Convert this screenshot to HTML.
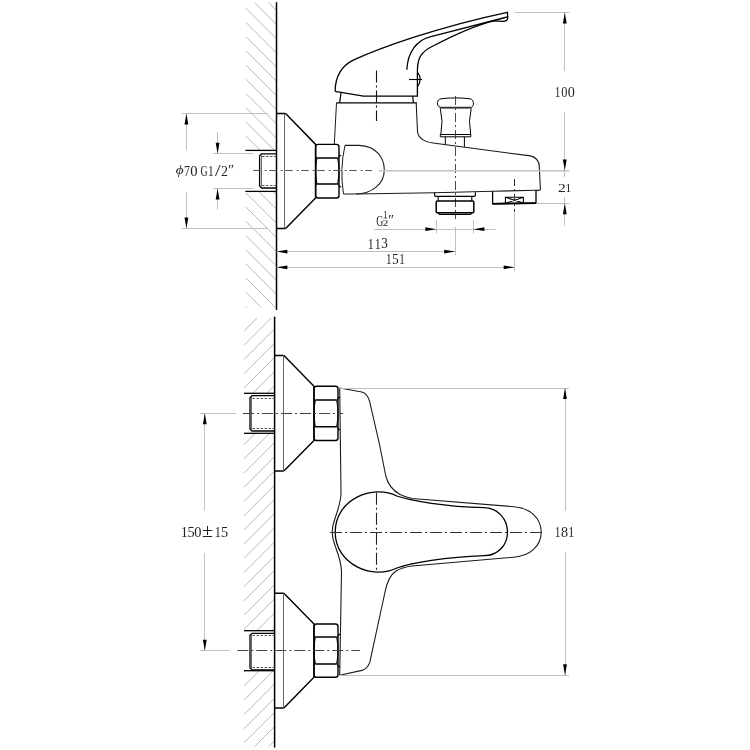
<!DOCTYPE html>
<html><head><meta charset="utf-8"><style>
html,body{margin:0;padding:0;background:#fff;}
svg{display:block;}
text{font-family:"Liberation Serif",serif;fill:#222;}
svg{will-change:transform;}
</style></head><body>
<svg width="750" height="750" viewBox="0 0 750 750">
<rect width="750" height="750" fill="#fff"/>
<line x1="268.8" y1="2.7" x2="276.4" y2="10.3" stroke="#b0b0b0" stroke-width="0.9" />
<line x1="254.6" y1="2.7" x2="276.4" y2="24.5" stroke="#b0b0b0" stroke-width="0.9" />
<line x1="246" y1="8.3" x2="276.4" y2="38.7" stroke="#b0b0b0" stroke-width="0.9" />
<line x1="246" y1="22.5" x2="276.4" y2="52.9" stroke="#b0b0b0" stroke-width="0.9" />
<line x1="246" y1="36.7" x2="276.4" y2="67.1" stroke="#b0b0b0" stroke-width="0.9" />
<line x1="246" y1="50.9" x2="276.4" y2="81.3" stroke="#b0b0b0" stroke-width="0.9" />
<line x1="246" y1="65.1" x2="276.4" y2="95.5" stroke="#b0b0b0" stroke-width="0.9" />
<line x1="246" y1="79.3" x2="276.4" y2="109.7" stroke="#b0b0b0" stroke-width="0.9" />
<line x1="246" y1="93.5" x2="276.4" y2="123.9" stroke="#b0b0b0" stroke-width="0.9" />
<line x1="246" y1="107.7" x2="276.4" y2="138.1" stroke="#b0b0b0" stroke-width="0.9" />
<line x1="246" y1="121.9" x2="274.5" y2="150.4" stroke="#b0b0b0" stroke-width="0.9" />
<line x1="246" y1="136.1" x2="260.3" y2="150.4" stroke="#b0b0b0" stroke-width="0.9" />
<line x1="246" y1="150.3" x2="246.1" y2="150.4" stroke="#b0b0b0" stroke-width="0.9" />
<line x1="272.9" y1="191.4" x2="276.4" y2="194.9" stroke="#b0b0b0" stroke-width="0.9" />
<line x1="258.7" y1="191.4" x2="276.4" y2="209.1" stroke="#b0b0b0" stroke-width="0.9" />
<line x1="246" y1="192.9" x2="276.4" y2="223.3" stroke="#b0b0b0" stroke-width="0.9" />
<line x1="246" y1="207.1" x2="276.4" y2="237.5" stroke="#b0b0b0" stroke-width="0.9" />
<line x1="246" y1="221.3" x2="276.4" y2="251.7" stroke="#b0b0b0" stroke-width="0.9" />
<line x1="246" y1="235.5" x2="276.4" y2="265.9" stroke="#b0b0b0" stroke-width="0.9" />
<line x1="246" y1="249.7" x2="276.4" y2="280.1" stroke="#b0b0b0" stroke-width="0.9" />
<line x1="246" y1="263.9" x2="276.4" y2="294.3" stroke="#b0b0b0" stroke-width="0.9" />
<line x1="246" y1="278.1" x2="275.4" y2="307.5" stroke="#b0b0b0" stroke-width="0.9" />
<line x1="246" y1="292.3" x2="261.2" y2="307.5" stroke="#b0b0b0" stroke-width="0.9" />
<line x1="246" y1="306.5" x2="247" y2="307.5" stroke="#b0b0b0" stroke-width="0.9" />
<line x1="244" y1="331.1" x2="257.1" y2="318" stroke="#b0b0b0" stroke-width="0.9" />
<line x1="244" y1="345.3" x2="271.3" y2="318" stroke="#b0b0b0" stroke-width="0.9" />
<line x1="244" y1="359.5" x2="274.7" y2="328.8" stroke="#b0b0b0" stroke-width="0.9" />
<line x1="244" y1="373.7" x2="274.7" y2="343" stroke="#b0b0b0" stroke-width="0.9" />
<line x1="244" y1="387.9" x2="274.7" y2="357.2" stroke="#b0b0b0" stroke-width="0.9" />
<line x1="252.8" y1="393.3" x2="274.7" y2="371.4" stroke="#b0b0b0" stroke-width="0.9" />
<line x1="267" y1="393.3" x2="274.7" y2="385.6" stroke="#b0b0b0" stroke-width="0.9" />
<line x1="244" y1="444.7" x2="255.4" y2="433.3" stroke="#b0b0b0" stroke-width="0.9" />
<line x1="244" y1="458.9" x2="269.6" y2="433.3" stroke="#b0b0b0" stroke-width="0.9" />
<line x1="244" y1="473.1" x2="274.7" y2="442.4" stroke="#b0b0b0" stroke-width="0.9" />
<line x1="244" y1="487.3" x2="274.7" y2="456.6" stroke="#b0b0b0" stroke-width="0.9" />
<line x1="244" y1="501.5" x2="274.7" y2="470.8" stroke="#b0b0b0" stroke-width="0.9" />
<line x1="244" y1="515.7" x2="274.7" y2="485" stroke="#b0b0b0" stroke-width="0.9" />
<line x1="244" y1="529.9" x2="274.7" y2="499.2" stroke="#b0b0b0" stroke-width="0.9" />
<line x1="244" y1="544.1" x2="274.7" y2="513.4" stroke="#b0b0b0" stroke-width="0.9" />
<line x1="244" y1="558.3" x2="274.7" y2="527.6" stroke="#b0b0b0" stroke-width="0.9" />
<line x1="244" y1="572.5" x2="274.7" y2="541.8" stroke="#b0b0b0" stroke-width="0.9" />
<line x1="244" y1="586.7" x2="274.7" y2="556" stroke="#b0b0b0" stroke-width="0.9" />
<line x1="244" y1="600.9" x2="274.7" y2="570.2" stroke="#b0b0b0" stroke-width="0.9" />
<line x1="244" y1="615.1" x2="274.7" y2="584.4" stroke="#b0b0b0" stroke-width="0.9" />
<line x1="244" y1="629.3" x2="274.7" y2="598.6" stroke="#b0b0b0" stroke-width="0.9" />
<line x1="256.8" y1="630.7" x2="274.7" y2="612.8" stroke="#b0b0b0" stroke-width="0.9" />
<line x1="271" y1="630.7" x2="274.7" y2="627" stroke="#b0b0b0" stroke-width="0.9" />
<line x1="244" y1="671.9" x2="245.2" y2="670.7" stroke="#b0b0b0" stroke-width="0.9" />
<line x1="244" y1="686.1" x2="259.4" y2="670.7" stroke="#b0b0b0" stroke-width="0.9" />
<line x1="244" y1="700.3" x2="273.6" y2="670.7" stroke="#b0b0b0" stroke-width="0.9" />
<line x1="244" y1="714.5" x2="274.7" y2="683.8" stroke="#b0b0b0" stroke-width="0.9" />
<line x1="244" y1="728.7" x2="274.7" y2="698" stroke="#b0b0b0" stroke-width="0.9" />
<line x1="244" y1="742.9" x2="274.7" y2="712.2" stroke="#b0b0b0" stroke-width="0.9" />
<line x1="254.6" y1="746.5" x2="274.7" y2="726.4" stroke="#b0b0b0" stroke-width="0.9" />
<line x1="268.8" y1="746.5" x2="274.7" y2="740.6" stroke="#b0b0b0" stroke-width="0.9" />
<line x1="276.5" y1="2.7" x2="276.5" y2="309.6" stroke="#000" stroke-width="1.5" stroke-linecap="round"/>
<line x1="274.6" y1="317.3" x2="274.6" y2="747" stroke="#000" stroke-width="1.5" stroke-linecap="round"/>
<path d="M276.4,113.4 L284.6,113.4 Q285.6,113.4 286.6,114.4 L315.6,144.4 L315.6,198 L286.6,227.4 Q285.6,228.4 284.6,228.4 L276.4,228.4" stroke="#000" stroke-width="1.45" fill="none" />
<line x1="284.5" y1="113.4" x2="284.5" y2="228.4" stroke="#666" stroke-width="1" />
<path d="M315.6,146.9 Q315.6,144.4 318.1,144.4 L336.5,144.4 Q339,144.4 339,146.9 L339,195.5 Q339,198 336.5,198 L318.1,198 Q315.6,198 315.6,195.5 Z" stroke="#000" stroke-width="1.4" fill="none" />
<path d="M316.9,158 L337.7,158 M316.9,184 L337.7,184" stroke="#000" stroke-width="1.4" fill="none" />
<path d="M316.9,158 Q314.3,171 316.9,184 M337.7,158 Q340.3,171 337.7,184" stroke="#000" stroke-width="1.1" fill="none" />
<path d="M315.6,156 Q315.6,158 316.9,158 M339,156 Q339,158 337.7,158 M315.6,186 Q315.6,184 316.9,184 M339,186 Q339,184 337.7,184" stroke="#000" stroke-width="1.0" fill="none" />
<line x1="339" y1="155.5" x2="341.2" y2="155.5" stroke="#000" stroke-width="1.2" />
<line x1="339" y1="186.7" x2="341.2" y2="186.7" stroke="#000" stroke-width="1.2" />
<path d="M276.4,153.8 L261.6,153.8 L259.6,155.8 L259.6,186 L261.6,188 L276.4,188" stroke="#000" stroke-width="1.3" fill="none" />
<line x1="261.5" y1="155.3" x2="261.5" y2="186.5" stroke="#444" stroke-width="0.8" />
<line x1="262.1" y1="156.5" x2="276.4" y2="156.5" stroke="#555" stroke-width="1" stroke-dasharray="2.5 1.5"/>
<line x1="262.1" y1="185.5" x2="276.4" y2="185.5" stroke="#555" stroke-width="1" stroke-dasharray="2.5 1.5"/>
<line x1="245.4" y1="150.4" x2="276.4" y2="150.4" stroke="#000" stroke-width="1.3" />
<line x1="245.4" y1="191.4" x2="276.4" y2="191.4" stroke="#000" stroke-width="1.3" />
<path d="M274.7,355.5 L282.9,355.5 Q283.9,355.5 284.9,356.5 L314,386.2 L314,440.5 L284.9,470 Q283.9,471 282.9,471 L274.7,471" stroke="#000" stroke-width="1.45" fill="none" />
<line x1="283.5" y1="355.5" x2="283.5" y2="471" stroke="#666" stroke-width="1" />
<path d="M314,388.7 Q314,386.2 316.5,386.2 L335.5,386.2 Q338,386.2 338,388.7 L338,438 Q338,440.5 335.5,440.5 L316.5,440.5 Q314,440.5 314,438 Z" stroke="#000" stroke-width="1.4" fill="none" />
<path d="M315.3,400 L336.7,400 M315.3,426.8 L336.7,426.8" stroke="#000" stroke-width="1.4" fill="none" />
<path d="M315.3,400 Q312.7,413.4 315.3,426.8 M336.7,400 Q339.3,413.4 336.7,426.8" stroke="#000" stroke-width="1.1" fill="none" />
<path d="M314,398 Q314,400 315.3,400 M338,398 Q338,400 336.7,400 M314,428.8 Q314,426.8 315.3,426.8 M338,428.8 Q338,426.8 336.7,426.8" stroke="#000" stroke-width="1.0" fill="none" />
<line x1="338" y1="397.5" x2="340.2" y2="397.5" stroke="#000" stroke-width="1.2" />
<line x1="338" y1="429.5" x2="340.2" y2="429.5" stroke="#000" stroke-width="1.2" />
<path d="M274.7,395.7 L252,395.7 L250,397.7 L250,429 L252,431 L274.7,431" stroke="#000" stroke-width="1.3" fill="none" />
<line x1="251.5" y1="397.2" x2="251.5" y2="429.5" stroke="#444" stroke-width="0.8" />
<line x1="252.5" y1="398.5" x2="274.7" y2="398.5" stroke="#555" stroke-width="1" stroke-dasharray="2.5 1.5"/>
<line x1="252.5" y1="428.5" x2="274.7" y2="428.5" stroke="#555" stroke-width="1" stroke-dasharray="2.5 1.5"/>
<line x1="244" y1="393.3" x2="274.7" y2="393.3" stroke="#000" stroke-width="1.3" />
<line x1="244" y1="433.3" x2="274.7" y2="433.3" stroke="#000" stroke-width="1.3" />
<path d="M274.7,593.3 L282.9,593.3 Q283.9,593.3 284.9,594.3 L314,624 L314,677.3 L284.9,707 Q283.9,708 282.9,708 L274.7,708" stroke="#000" stroke-width="1.45" fill="none" />
<line x1="283.5" y1="593.3" x2="283.5" y2="708" stroke="#666" stroke-width="1" />
<path d="M314,626.5 Q314,624 316.5,624 L335.5,624 Q338,624 338,626.5 L338,674.8 Q338,677.3 335.5,677.3 L316.5,677.3 Q314,677.3 314,674.8 Z" stroke="#000" stroke-width="1.4" fill="none" />
<path d="M315.3,637 L336.7,637 M315.3,664 L336.7,664" stroke="#000" stroke-width="1.4" fill="none" />
<path d="M315.3,637 Q312.7,650.5 315.3,664 M336.7,637 Q339.3,650.5 336.7,664" stroke="#000" stroke-width="1.1" fill="none" />
<path d="M314,635 Q314,637 315.3,637 M338,635 Q338,637 336.7,637 M314,666 Q314,664 315.3,664 M338,666 Q338,664 336.7,664" stroke="#000" stroke-width="1.0" fill="none" />
<line x1="338" y1="634.5" x2="340.2" y2="634.5" stroke="#000" stroke-width="1.2" />
<line x1="338" y1="666.7" x2="340.2" y2="666.7" stroke="#000" stroke-width="1.2" />
<path d="M274.7,633.3 L252,633.3 L250,635.3 L250,667.9 L252,669.9 L274.7,669.9" stroke="#000" stroke-width="1.3" fill="none" />
<line x1="251.5" y1="634.8" x2="251.5" y2="668.4" stroke="#444" stroke-width="0.8" />
<line x1="252.5" y1="635.5" x2="274.7" y2="635.5" stroke="#555" stroke-width="1" stroke-dasharray="2.5 1.5"/>
<line x1="252.5" y1="667.5" x2="274.7" y2="667.5" stroke="#555" stroke-width="1" stroke-dasharray="2.5 1.5"/>
<line x1="244" y1="630.7" x2="274.7" y2="630.7" stroke="#000" stroke-width="1.3" />
<line x1="244" y1="670.7" x2="274.7" y2="670.7" stroke="#000" stroke-width="1.3" />
<path d="M335.1,91.3 C335.3,78 341,66 353.8,59.9 C378,49 435,27.5 507.4,12.3 L507.8,17.8 Q507.5,21.4 503,21.4" stroke="#000" stroke-width="1.3" fill="none" />
<path d="M335.1,91.3 L363.4,96.1 L417.4,96.1 L417.4,70.8" stroke="#000" stroke-width="1.3" fill="none" />
<path d="M406.9,69.7 C407.5,52 417,40 430,36.8 L507.2,17" stroke="#000" stroke-width="1.3" fill="none" />
<path d="M417.4,70.8 C417.4,57 422,51.5 432,46.5 C452,36 474,25.5 494,20.8 Q499,20.8 503,21.4" stroke="#000" stroke-width="1.3" fill="none" />
<path d="M417.4,72 Q423,79.3 417.4,86.8" stroke="#000" stroke-width="1.2" fill="none" />
<line x1="409" y1="79.5" x2="422" y2="79.5" stroke="#000" stroke-width="1.1" />
<path d="M341,92.9 L339.7,102.7 M412.7,96.1 L413.4,102.7" stroke="#000" stroke-width="1.2" fill="none" />
<line x1="336.5" y1="102.8" x2="416.8" y2="102.8" stroke="#000" stroke-width="1.3" />
<line x1="376.5" y1="70.5" x2="376.5" y2="121" stroke="#111" stroke-width="1.1" stroke-dasharray="12 3 2 3"/>
<path d="M336.5,102.8 L334.3,144.3" stroke="#1a1a1a" stroke-width="1" fill="none" />
<path d="M416.2,102.8 L417.5,131.5 C418.3,138.5 424,141.8 433,143 L530.4,155.9 C537,157.5 539.3,162 539.3,167 L540.4,189.3 Q540.4,190.4 538.6,190.4 L536,190.4" stroke="#1a1a1a" stroke-width="1.1" fill="none" />
<path d="M345,145.4 L359,145.4 C376,146 384.3,157 384.3,170 C384.3,184 372,193.8 356,194 L343.5,194" stroke="#1a1a1a" stroke-width="1.1" fill="none" />
<path d="M345,145.4 Q339.5,169 343.5,194" stroke="#1a1a1a" stroke-width="1" fill="none" />
<path d="M356,194 L434.6,192.8 L492.6,191.2 L536,190.3" stroke="#1a1a1a" stroke-width="1.1" fill="none" />
<path d="M440,107.3 C436,106 437,98.8 441,98.8 C450,97.6 461,97.6 470,98.8 C474,99.2 474.5,106 471.5,107.3 Z" stroke="#000" stroke-width="1.0" fill="none" />
<line x1="440" y1="107.6" x2="471.5" y2="107.6" stroke="#333" stroke-width="1.2" />
<line x1="440" y1="108.5" x2="471.5" y2="108.5" stroke="#777" stroke-width="0.9" />
<path d="M440.3,108.6 Q443.5,121 440.8,134.5 M471.2,108.6 Q468,121 470.7,134.5" stroke="#000" stroke-width="1.0" fill="none" />
<path d="M440.3,134.5 L470.8,134.5 L470.8,136.8 L440.3,136.8 Z" stroke="#000" stroke-width="1.0" fill="none" />
<path d="M445.3,136.8 L445.3,144.6 M464.4,136.8 L464.4,146.9" stroke="#000" stroke-width="1.0" fill="none" />
<line x1="455.5" y1="96" x2="455.5" y2="219" stroke="#333" stroke-width="0.9" stroke-dasharray="9 3 2 3"/>
<path d="M434.6,192.6 L434.6,195 Q434.6,196.4 436,196.4 L474,196.4 Q475.4,196.4 475.4,195 L475.4,192.2" stroke="#000" stroke-width="1.2" fill="none" />
<path d="M438.2,196.4 L438.2,201 M471.8,196.4 L471.8,201" stroke="#000" stroke-width="1.1" fill="none" />
<path d="M437.5,201 L472.5,201 Q473.8,201 473.8,202.3 L473.8,211.5 Q473.8,212.8 472.5,212.8 L437.5,212.8 Q436.2,212.8 436.2,211.5 L436.2,202.3 Q436.2,201 437.5,201 Z" stroke="#000" stroke-width="1.5" fill="none" />
<path d="M438,212.8 L439.5,214.4 L470.5,214.4 L472,212.8" stroke="#000" stroke-width="1.1" fill="none" />
<path d="M492.6,191.2 L492.6,203.6 L536,202.9 L536,190.3" stroke="#000" stroke-width="1.3" fill="none" />
<line x1="492.6" y1="203.8" x2="536" y2="203.1" stroke="#000" stroke-width="1.8" />
<path d="M505.4,203.4 L505.4,197.3 L523.4,197.3 L523.4,203.1 M505.4,197.3 L523.4,203.1 M505.4,203.4 L523.4,197.3" stroke="#000" stroke-width="1.1" fill="none" />
<line x1="514.5" y1="179" x2="514.5" y2="212" stroke="#333" stroke-width="1" stroke-dasharray="7 3 2 3"/>
<line x1="253.2" y1="170.5" x2="372" y2="170.5" stroke="#555" stroke-width="1.1" stroke-dasharray="7.5 4 2 2.5"/>
<line x1="379" y1="170.8" x2="569.3" y2="170.8" stroke="#c4c4c4" stroke-width="1.4" />
<line x1="182" y1="113.5" x2="268" y2="113.5" stroke="#c0c0c0" stroke-width="1" />
<line x1="182" y1="228.5" x2="267" y2="228.5" stroke="#c0c0c0" stroke-width="1" />
<line x1="186.5" y1="113.4" x2="186.5" y2="150" stroke="#c0c0c0" stroke-width="1" />
<line x1="186.5" y1="192" x2="186.5" y2="228.4" stroke="#c0c0c0" stroke-width="1" />
<polygon points="186.4,113.4 184.5,124.4 188.3,124.4" fill="#000"/>
<polygon points="186.4,228.4 184.5,217.4 188.3,217.4" fill="#000"/>
<line x1="213" y1="153.5" x2="253.6" y2="153.5" stroke="#c0c0c0" stroke-width="1" />
<line x1="213" y1="188.5" x2="253.6" y2="188.5" stroke="#c0c0c0" stroke-width="1" />
<line x1="217.5" y1="132" x2="217.5" y2="153.8" stroke="#c0c0c0" stroke-width="1" />
<polygon points="217.6,153.8 215.7,142.8 219.5,142.8" fill="#000"/>
<line x1="217.5" y1="188.4" x2="217.5" y2="209.6" stroke="#c0c0c0" stroke-width="1" />
<polygon points="217.6,188.4 215.7,199.4 219.5,199.4" fill="#000"/>
<line x1="515.2" y1="12.5" x2="569.4" y2="12.5" stroke="#c0c0c0" stroke-width="1" />
<line x1="564.5" y1="12.4" x2="564.5" y2="71" stroke="#c0c0c0" stroke-width="1" />
<line x1="564.5" y1="112" x2="564.5" y2="177.2" stroke="#c0c0c0" stroke-width="1" />
<polygon points="564.8,12.4 562.9,23.4 566.7,23.4" fill="#000"/>
<polygon points="564.8,170.6 562.9,159.6 566.7,159.6" fill="#000"/>
<line x1="537" y1="203.5" x2="569.3" y2="203.5" stroke="#c0c0c0" stroke-width="1" />
<line x1="564.5" y1="197" x2="564.5" y2="225.7" stroke="#c0c0c0" stroke-width="1" />
<polygon points="564.8,203.3 562.9,214.3 566.7,214.3" fill="#000"/>
<line x1="436.5" y1="220" x2="436.5" y2="233.6" stroke="#c0c0c0" stroke-width="1" />
<line x1="473.5" y1="220" x2="473.5" y2="233.6" stroke="#c0c0c0" stroke-width="1" />
<line x1="374" y1="229.5" x2="495.5" y2="229.5" stroke="#c0c0c0" stroke-width="1" />
<polygon points="436.4,229.2 425.4,227.3 425.4,231.1" fill="#000"/>
<polygon points="473.4,229.2 484.4,227.3 484.4,231.1" fill="#000"/>
<line x1="455.5" y1="226.8" x2="455.5" y2="255" stroke="#c0c0c0" stroke-width="1" />
<line x1="514.5" y1="212.7" x2="514.5" y2="271" stroke="#c0c0c0" stroke-width="1" />
<line x1="276.4" y1="251.5" x2="455.2" y2="251.5" stroke="#c0c0c0" stroke-width="1" />
<polygon points="276.4,251.6 287.4,249.7 287.4,253.5" fill="#000"/>
<polygon points="455.2,251.6 444.2,249.7 444.2,253.5" fill="#000"/>
<line x1="276.4" y1="267.5" x2="514.7" y2="267.5" stroke="#c0c0c0" stroke-width="1" />
<polygon points="276.4,267.3 287.4,265.4 287.4,269.2" fill="#000"/>
<polygon points="514.7,267.3 503.7,265.4 503.7,269.2" fill="#000"/>
<path d="M339.7,388 L361.8,392 C366,393 368,396 369.5,401 L379.4,444 L385.8,476 C388,485 392,490 400,494.5 C404,496.5 407,497.5 412,498.5 L513.9,506.7 C530,508 541.2,518 541.2,532.3 C541.2,546 530,556 513.9,557.2 L412,566 C405,567 400,568.5 396,571 C390,575 387,582 385,592 L369.8,662.4 C368,667 366,669.5 362,670.4 L339.7,675.2" stroke="#1a1a1a" stroke-width="1.1" fill="none" />
<path d="M339.7,388 L341,492 C341.5,500 338,510 334.5,520 C331.5,528 331.5,536 334.5,544 C338,554 341.5,562 341.5,572 L339.7,675.2" stroke="#1a1a1a" stroke-width="1.1" fill="none" />
<path d="M396.8,496 C412,501 445,506.5 484,507.7 C498,508 507.5,519 507.5,532.3 C507.5,545 498,555.7 484,555.7 C445,557 412,563 396.8,568 C373,580 335.2,565 335.2,532 C335.2,499 373,484 396.8,496 Z" stroke="#000" stroke-width="1.3" fill="none" />
<line x1="376.5" y1="492.8" x2="376.5" y2="572" stroke="#222" stroke-width="1.1" stroke-dasharray="12 3 2 3"/>
<line x1="330" y1="532.5" x2="543.3" y2="532.5" stroke="#333" stroke-width="1.1" stroke-dasharray="12 3 2 3"/>
<line x1="339.7" y1="388.5" x2="568.8" y2="388.5" stroke="#c0c0c0" stroke-width="1" />
<line x1="339.7" y1="675.5" x2="569" y2="675.5" stroke="#c0c0c0" stroke-width="1" />
<line x1="200" y1="413.5" x2="236" y2="413.5" stroke="#c0c0c0" stroke-width="1" />
<line x1="243" y1="413.5" x2="343" y2="413.5" stroke="#444" stroke-width="1" stroke-dasharray="11 3 2 3"/>
<line x1="237.3" y1="650.5" x2="360" y2="650.5" stroke="#444" stroke-width="1" stroke-dasharray="11 3 2 3"/>
<line x1="200" y1="650.5" x2="229.3" y2="650.5" stroke="#c0c0c0" stroke-width="1" />
<line x1="204.5" y1="413.3" x2="204.5" y2="510.7" stroke="#c0c0c0" stroke-width="1" />
<line x1="204.5" y1="553.2" x2="204.5" y2="650.7" stroke="#c0c0c0" stroke-width="1" />
<polygon points="204.8,413.3 202.9,424.3 206.7,424.3" fill="#000"/>
<polygon points="204.8,650.7 202.9,639.7 206.7,639.7" fill="#000"/>
<line x1="565.5" y1="388" x2="565.5" y2="511" stroke="#c0c0c0" stroke-width="1" />
<line x1="565.5" y1="552.5" x2="565.5" y2="675.2" stroke="#c0c0c0" stroke-width="1" />
<polygon points="565,388 563.1,399 566.9,399" fill="#000"/>
<polygon points="565,675.2 563.1,664.2 566.9,664.2" fill="#000"/>
<text transform="translate(175.65,173.86) scale(1.283,1)" font-size="11.91" font-style="italic">ϕ</text>
<text transform="translate(184.02,175.70) scale(0.834,1)" font-size="14.20">7</text>
<text transform="translate(190.34,175.57) scale(1.061,1)" font-size="13.78">0</text>
<text transform="translate(200.50,175.56) scale(0.711,1)" font-size="13.84">G</text>
<text transform="translate(207.90,175.70) scale(0.807,1)" font-size="14.09">1</text>
<text transform="translate(221.09,175.70) scale(0.995,1)" font-size="14.05">2</text>
<text transform="translate(215.10,176.34) scale(1.204,1)" font-size="16.74">/</text>
<text transform="translate(228.09,174.76) scale(1.002,1)" font-size="14.90">″</text>
<text transform="translate(367.85,248.50) scale(0.847,1)" font-size="14.09">1</text>
<text transform="translate(374.75,248.50) scale(0.847,1)" font-size="14.09">1</text>
<text transform="translate(381.17,248.36) scale(0.944,1)" font-size="13.84">3</text>
<text transform="translate(385.93,263.80) scale(0.813,1)" font-size="13.63">1</text>
<text transform="translate(392.12,263.67) scale(0.990,1)" font-size="13.54">5</text>
<text transform="translate(399.13,263.80) scale(0.813,1)" font-size="13.63">1</text>
<text transform="translate(554.80,96.80) scale(0.781,1)" font-size="14.54">1</text>
<text transform="translate(561.33,96.66) scale(0.862,1)" font-size="14.23">0</text>
<text transform="translate(567.66,96.66) scale(0.995,1)" font-size="14.23">0</text>
<text transform="translate(558.12,191.80) scale(1.164,1)" font-size="13.29">2</text>
<text transform="translate(565.50,191.80) scale(0.852,1)" font-size="13.33">1</text>
<text transform="translate(554.80,536.80) scale(0.798,1)" font-size="14.24">1</text>
<text transform="translate(561.06,536.66) scale(1.016,1)" font-size="13.93">8</text>
<text transform="translate(568.15,536.80) scale(0.838,1)" font-size="14.24">1</text>
<text transform="translate(180.75,536.80) scale(0.997,1)" font-size="14.24">1</text>
<text transform="translate(187.56,536.66) scale(1.018,1)" font-size="14.14">5</text>
<text transform="translate(194.35,536.66) scale(1.033,1)" font-size="13.93">0</text>
<text transform="translate(214.73,536.80) scale(0.858,1)" font-size="14.24">1</text>
<text transform="translate(221.06,536.66) scale(1.018,1)" font-size="14.14">5</text>
<text transform="translate(201.96,537.10) scale(1.130,1)" font-size="17.88">±</text>
<text transform="translate(376.30,225.56) scale(0.693,1)" font-size="13.99">G</text>
<text transform="translate(383.25,218.00) scale(0.840,1)" font-size="10.15">1</text>
<text transform="translate(382.48,225.70) scale(1.362,1)" font-size="8.61">2</text>
<line x1="383.2" y1="218.5" x2="387.6" y2="218.5" stroke="#aaa" stroke-width="0.8" />
<text transform="translate(388.24,224.78) scale(0.964,1)" font-size="14.48">″</text>
</svg>
</body></html>
